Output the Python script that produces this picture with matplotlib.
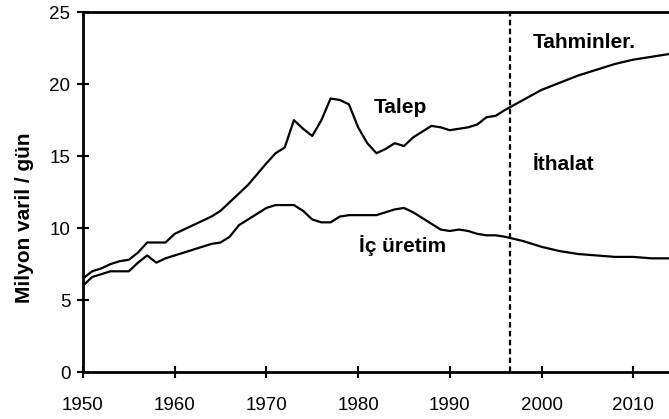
import matplotlib
matplotlib.use("Agg")
from matplotlib import pyplot as plt

# demand (Talep), million barrels / day
talep_years = [1950, 1951, 1952, 1953, 1954, 1955, 1956, 1957, 1958, 1959, 1960,
               1962, 1964, 1965, 1966, 1968, 1970, 1971, 1972, 1973, 1974, 1975,
               1976, 1977, 1978, 1979, 1980, 1981, 1982, 1983, 1984, 1985, 1986,
               1987, 1988, 1989, 1990, 1991, 1992, 1993, 1994, 1995, 1996, 1998,
               2000, 2002, 2004, 2006, 2008, 2010, 2012, 2014]
talep = [6.5, 7.0, 7.2, 7.5, 7.7, 7.8, 8.3, 9.0, 9.0, 9.0, 9.6,
         10.2, 10.8, 11.2, 11.8, 13.0, 14.5, 15.2, 15.6, 17.5, 16.9, 16.4,
         17.5, 19.0, 18.9, 18.6, 17.0, 15.9, 15.2, 15.5, 15.9, 15.7, 16.3,
         16.7, 17.1, 17.0, 16.8, 16.9, 17.0, 17.2, 17.7, 17.8, 18.2, 18.9,
         19.6, 20.1, 20.6, 21.0, 21.4, 21.7, 21.9, 22.1]

# domestic production (İç üretim)
uretim_years = [1950, 1951, 1952, 1953, 1954, 1955, 1956, 1957, 1958, 1959, 1960,
                1962, 1964, 1965, 1966, 1967, 1968, 1969, 1970, 1971, 1972, 1973,
                1974, 1975, 1976, 1977, 1978, 1979, 1980, 1981, 1982, 1983, 1984,
                1985, 1986, 1987, 1988, 1989, 1990, 1991, 1992, 1993, 1994, 1995,
                1996, 1998, 2000, 2002, 2004, 2006, 2008, 2010, 2012, 2014]
uretim = [6.0, 6.6, 6.8, 7.0, 7.0, 7.0, 7.6, 8.1, 7.6, 7.9, 8.1,
          8.5, 8.9, 9.0, 9.4, 10.2, 10.6, 11.0, 11.4, 11.6, 11.6, 11.6,
          11.2, 10.6, 10.4, 10.4, 10.8, 10.9, 10.9, 10.9, 10.9, 11.1, 11.3,
          11.4, 11.1, 10.7, 10.3, 9.9, 9.8, 9.9, 9.8, 9.6, 9.5, 9.5,
          9.4, 9.1, 8.7, 8.4, 8.2, 8.1, 8.0, 8.0, 7.9, 7.9]

x_ticks = [1950, 1960, 1970, 1980, 1990, 2000, 2010]
y_ticks = [0, 5, 10, 15, 20, 25]
forecast_start = 1996.6

plt.rcParams['font.family'] = ['Liberation Sans', 'DejaVu Sans']

fig = plt.figure(figsize=(6.69, 4.19), dpi=100)
ax = fig.add_axes([0.124, 0.112, 0.876, 0.859])

ax.plot(talep_years, talep, color='black', lw=1.6)
ax.plot(uretim_years, uretim, color='black', lw=1.6)
ax.axvline(forecast_start, color='black', lw=1.6, ls=(0, (2.5, 1.5)))

ax.set_xlim(1950, 2013.9)
ax.set_ylim(0, 25)
ax.set_xticks(x_ticks)
ax.set_yticks(y_ticks)
ax.tick_params(direction='inout', length=8, width=1.5, labelsize=13.5, colors='black')
ax.tick_params(axis='x', pad=14)
ax.tick_params(axis='y', pad=5)

for side in ['left', 'bottom', 'top']:
    ax.spines[side].set_linewidth(2)
ax.spines['right'].set_visible(False)

ax.set_ylabel('Milyon varil / gün', fontsize=15, fontweight='bold')
ax.yaxis.set_label_coords(-0.083, 0.43)

ax.text(1984.6, 18.4, 'Talep', fontsize=15, fontweight='bold', ha='center', va='center')
ax.text(2004.7, 22.9, 'Tahminler.', fontsize=15, fontweight='bold', ha='center', va='center')
ax.text(2002.4, 14.4, 'İthalat', fontsize=15, fontweight='bold', ha='center', va='center')
ax.text(1984.9, 8.8, 'İç üretim', fontsize=15, fontweight='bold', ha='center', va='center')

plt.savefig('out.png', dpi=100)
